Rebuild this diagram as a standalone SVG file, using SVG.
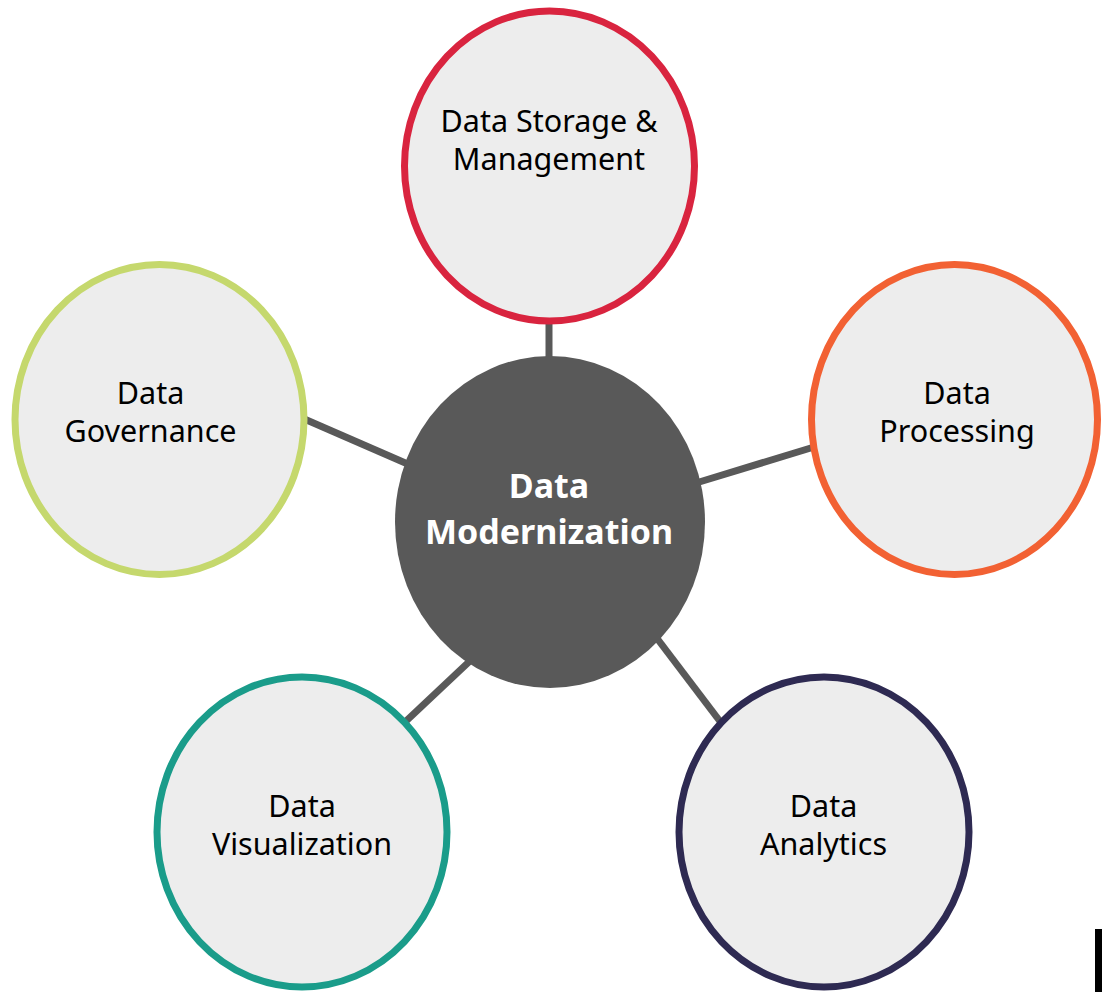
<svg xmlns="http://www.w3.org/2000/svg" width="1102" height="992" viewBox="0 0 1102 992">
<style>
.node{fill:#EDEDED;stroke-width:7}
.lbl{font-family:"Noto Sans","Open Sans",sans-serif;font-size:30.5px;fill:#000;text-anchor:middle}
.center{fill:#595959}
.clbl{font-family:"Noto Sans","Open Sans",sans-serif;font-size:34px;font-weight:bold;fill:#FFFFFF;text-anchor:middle}
.conn{stroke:#595959;stroke-width:7;fill:none}
</style>
<rect width="1102" height="992" fill="#FFFFFF"/>
<g id="connectors">
<line class="conn" x1="549" y1="318" x2="549" y2="362"/>
<line class="conn" x1="302" y1="418" x2="410" y2="465"/>
<line class="conn" x1="696" y1="483" x2="814" y2="447"/>
<line class="conn" x1="404" y1="723" x2="472" y2="659"/>
<line class="conn" x1="722" y1="724" x2="656" y2="637"/>
</g>
<g id="node-center">
<ellipse class="center" cx="550" cy="522" rx="155" ry="166"/>
<text class="clbl" x="549" y="498">Data</text>
<text class="clbl" x="549" y="544">Modernization</text>
</g>
<g id="node-storage">
<ellipse class="node" cx="549.5" cy="166" rx="145" ry="155" stroke="#D9243F"/>
<text class="lbl" x="549" y="131.5">Data Storage &amp;</text>
<text class="lbl" x="549" y="170">Management</text>
</g>
<g id="node-governance">
<ellipse class="node" cx="159.5" cy="419.5" rx="144.5" ry="155" stroke="#C5D86D"/>
<text class="lbl" x="150.5" y="404">Data</text>
<text class="lbl" x="150.5" y="442">Governance</text>
</g>
<g id="node-processing">
<ellipse class="node" cx="954.5" cy="419.5" rx="143" ry="155" stroke="#F26133"/>
<text class="lbl" x="957" y="404">Data</text>
<text class="lbl" x="957" y="442">Processing</text>
</g>
<g id="node-visualization">
<ellipse class="node" cx="302" cy="832" rx="145" ry="155" stroke="#1A9C8A"/>
<text class="lbl" x="302" y="817">Data</text>
<text class="lbl" x="302" y="855">Visualization</text>
</g>
<g id="node-analytics">
<ellipse class="node" cx="824" cy="832" rx="145" ry="155" stroke="#2E2A52"/>
<text class="lbl" x="823.5" y="817">Data</text>
<text class="lbl" x="823.5" y="855">Analytics</text>
</g>
<rect x="1095" y="929" width="7" height="63" fill="#000000"/>
</svg>
